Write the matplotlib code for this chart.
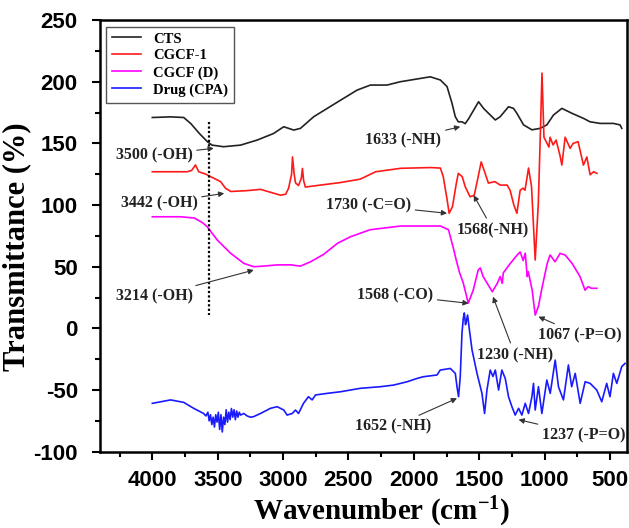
import matplotlib
matplotlib.use("Agg")
import matplotlib.pyplot as plt
from matplotlib.ticker import MultipleLocator

plt.rcParams['font.family'] = ['Liberation Serif', 'DejaVu Serif']
plt.rcParams['font.weight'] = 'bold'
plt.rcParams['mathtext.fontset'] = 'custom'
plt.rcParams['mathtext.rm'] = 'Liberation Serif:bold'
plt.rcParams['mathtext.it'] = 'Liberation Serif:bold'
plt.rcParams['mathtext.bf'] = 'Liberation Serif:bold'
plt.rcParams['axes.unicode_minus'] = False

# CTS (black)
cts_wn = [4000, 3860, 3760, 3705, 3640, 3575, 3543, 3455, 3325, 3198, 3073, 2995, 2918, 2867, 2766, 2561, 2434, 2332, 2205, 2103,
          1874, 1797, 1746, 1708, 1683, 1660, 1632, 1607, 1581, 1505, 1467, 1429, 1377, 1340, 1276, 1238, 1212, 1161, 1097, 1034,
          983, 932, 868, 791, 703, 652, 575, 474, 423, 410]
cts_t = [171, 171.5, 171, 166, 158, 151, 148.6, 147.3, 148.6, 152.7, 158, 163.5, 160.8, 162.2, 171.6, 185, 193.2, 197.3, 197.3, 200,
         204, 201.4, 196, 182.5, 171.6, 167.5, 167.5, 166, 170, 183.8, 178.4, 174.4, 169, 171.6, 179.7, 178.4, 174.4, 165, 161, 162.2,
         165, 173, 178.4, 174.4, 170.3, 167.5, 166.2, 166.2, 165, 162.2]

# CGCF-1 (red)
cgcf1_wn = [4000, 3734, 3700, 3670, 3645, 3590, 3554, 3478, 3440, 3400, 3287, 3172, 3020, 2980, 2958, 2935, 2928, 2915, 2905, 2882,
            2860, 2852, 2843, 2830, 2714, 2564, 2410, 2292, 2100, 1870, 1797, 1775, 1745, 1730, 1705, 1675, 1660, 1630, 1607, 1570,
            1538, 1508, 1485, 1455, 1430, 1380, 1340, 1287, 1264, 1235, 1212, 1187, 1165, 1150, 1123, 1100, 1072, 1048, 1032, 1020,
            1005, 967, 958, 935, 912, 882, 868, 843, 805, 782, 744, 703, 677, 652, 625, 600]
cgcf1_t = [127, 127, 128, 132.5, 127, 125, 123, 119, 113.6, 111, 111.6, 112.7, 108, 108.8, 113.6, 125, 139, 125, 118, 115.8,
           122, 129.7, 120, 114.6, 116.2, 118.2, 121, 127, 129.8, 130.4, 130, 123, 104, 93.3, 98.6, 117.6, 125.7, 123, 114.8, 106.7,
           108, 123, 135, 125.7, 117.8, 119, 116.2, 116.2, 112, 100, 93.3, 112, 113.7, 112, 130, 115, 55.4, 101.6, 160, 207,
           155, 147, 155, 148.7, 152.7, 140, 132.4, 155, 146, 150, 151.4, 132.4, 139, 124.6, 127, 125.7]

# CGCF (D) (magenta)
cgcfd_wn = [4000, 3784, 3680, 3620, 3580, 3503, 3402, 3300, 3224, 3150, 3043, 2943, 2867, 2790, 2690, 2584, 2485, 2334, 2100, 1797,
            1735, 1700, 1675, 1650, 1622, 1584, 1546, 1508, 1492, 1470, 1400, 1362, 1340, 1324, 1316, 1262, 1210, 1187, 1164, 1148,
            1133, 1125, 1095, 1072, 1048, 1018, 980, 958, 920, 882, 843, 790, 729, 691, 668, 640, 600]
cgcfd_t = [90.5, 90.5, 89.5, 86, 82.4, 71.6, 61, 52.7, 50, 50.5, 51.5, 51.5, 50.5, 54, 60, 69, 74.3, 80, 83, 83,
           80, 66, 55, 45, 36.8, 20.5, 31, 47.3, 49, 42, 29.7, 36.5, 42, 36.5, 45, 52.7, 59.5, 62, 55, 61,
           42, 46, 31, 10.8, 17.5, 33.8, 52.7, 59.5, 54, 60.8, 59.5, 52.7, 42, 31, 33.8, 32.5, 32.5]

# Drug (CPA) (blue)
drug_wn = [4000, 3860, 3760, 3684, 3608, 3590, 3575, 3565, 3555, 3545, 3535, 3525, 3515, 3505, 3495, 3485, 3475, 3465, 3455, 3445,
           3435, 3425, 3415, 3405, 3395, 3385, 3375, 3365, 3355, 3345, 3335, 3325, 3300, 3275, 3250, 3226, 3173, 3096, 3045, 2995,
           2969, 2930, 2905, 2882, 2844, 2806, 2778, 2752, 2663, 2562, 2409, 2256, 2156, 2052, 1976, 1927, 1823, 1798, 1721, 1683,
           1670, 1658, 1645, 1632, 1622, 1614, 1605, 1599, 1589, 1578, 1555, 1517, 1479, 1459, 1441, 1416, 1395, 1377, 1352, 1327,
           1301, 1276, 1250, 1225, 1199, 1174, 1148, 1123, 1097, 1085, 1072, 1047, 1021, 983, 957, 919, 894, 856, 818, 793,
           766, 728, 690, 652, 601, 563, 525, 500, 474, 448, 410, 385]
drug_t = [-60.8, -58, -60, -64.8, -69, -71, -68, -75, -70, -78, -72, -80, -70, -76, -68, -82, -70, -84, -72, -78,
          -66, -76, -68, -74, -65, -72, -66, -74, -67, -72, -68, -70.3, -69, -71, -72, -71.6, -69, -64.8, -63.5, -66.2,
          -70.3, -69, -66.2, -69, -60.8, -55.4, -58, -54, -52.7, -51.4, -48.6, -47.3, -46, -43.3, -40.6, -39.2, -37.8, -33.8, -32.5, -36.5,
          -47.3, -55.4, -39, -4, 8, 12.5, 3, 5.5, 10.8, 1.3, -17.5, -36.5, -52.7, -69, -50, -33.8, -39, -33.8, -50, -33.8,
          -40.6, -55.4, -63.5, -70.3, -64.8, -70.3, -60.8, -69, -55.4, -44.6, -66.2, -47.3, -69, -41.9, -52.7, -25.7, -47.3, -58, -29.7, -47.3,
          -36.5, -60.8, -43.3, -44.6, -50, -59.5, -44.6, -55.4, -36.5, -44.6, -31, -28.4]

series = [
    ("CTS", cts_wn, cts_t, "#222222"),
    ("CGCF-1", cgcf1_wn, cgcf1_t, "#ff1a1a"),
    ("CGCF (D)", cgcfd_wn, cgcfd_t, "#ff00ff"),
    ("Drug (CPA)", drug_wn, drug_t, "#1a1aff"),
]

# annotations: text, text left position, arrow target
notes = [
    ("3500 (-OH)", (4280, 140.6), (3530, 146)),
    ("3442 (-OH)", (4242, 101.4), (3450, 109.5)),
    ("3214 (-OH)", (4280, 25.7), (3224, 47.3)),
    ("1633 (-NH)", (2370, 152.7), (1645, 163.5)),
    ("1730 (-C=O)", (2672, 100), (1746, 93.3)),
    ("1568(-NH)", (1670, 79.7), (1543, 108)),
    ("1568 (-CO)", (2434, 27), (1581, 20.3)),
    ("1230 (-NH)", (1517, -21.6), (1395, 25.7)),
    ("1067 (-P=O)", (1049, -5.4), (1047, 9.5)),
    ("1652 (-NH)", (2447, -79.7), (1670, -56.7)),
    ("1237 (-P=O)", (1021, -86.5), (1199, -74)),
]

fig = plt.figure(figsize=(6.29, 5.28), dpi=100)
ax = fig.add_axes([0.159, 0.1445, 0.8378, 0.8175])

for name, wn, t, c in series:
    ax.plot(wn, t, color=c, lw=1.2, label=name)

ax.plot([3570, 3570], [167.5, 10.8], color='black', lw=1.6, ls=(0, (1, 1)))

for txt, tpos, target in notes:
    ax.annotate(txt, xy=target, xytext=tpos, fontsize=11.5, fontweight='bold',
                ha='left', va='center', color='#222222',
                arrowprops=dict(arrowstyle='-|>', color='#333333', lw=0.8,
                                mutation_scale=8, shrinkA=1, shrinkB=0))

ax.set_xlim(4400, 370)
ax.set_ylim(-100, 250)
ax.xaxis.set_major_locator(MultipleLocator(500))
ax.xaxis.set_minor_locator(MultipleLocator(250))
ax.yaxis.set_major_locator(MultipleLocator(50))
ax.yaxis.set_minor_locator(MultipleLocator(25))
ax.tick_params(which='major', direction='out', length=6, width=1.5)
ax.tick_params(which='minor', direction='out', length=3.5, width=1.5)
ax.tick_params(axis='y', which='major', pad=10)
ax.tick_params(axis='x', which='major', pad=7)
for lab in ax.get_xticklabels() + ax.get_yticklabels():
    lab.set_fontfamily('Liberation Sans')
    lab.set_fontweight('bold')
    lab.set_fontsize(16)
for sp in ax.spines.values():
    sp.set_linewidth(1.8)

ax.set_xlabel(r'Wavenumber (cm$^{-1}$)', fontsize=21, fontweight='bold')
ax.xaxis.set_label_coords(0.535, -0.1)
ax.set_ylabel('Transmittance (%)', fontsize=22, fontweight='bold')
ax.yaxis.set_label_coords(-0.13, 0.475)

leg = ax.legend(loc='upper left', bbox_to_anchor=(0.012, 0.985), borderaxespad=0,
                prop={'family': 'Liberation Serif', 'weight': 'bold', 'size': 10.5},
                handlelength=2.0, labelspacing=0.25, fancybox=False, framealpha=1)
leg.get_frame().set_edgecolor('#555555')
leg.get_frame().set_linewidth(1.0)

fig.savefig('out.png', dpi=100)
